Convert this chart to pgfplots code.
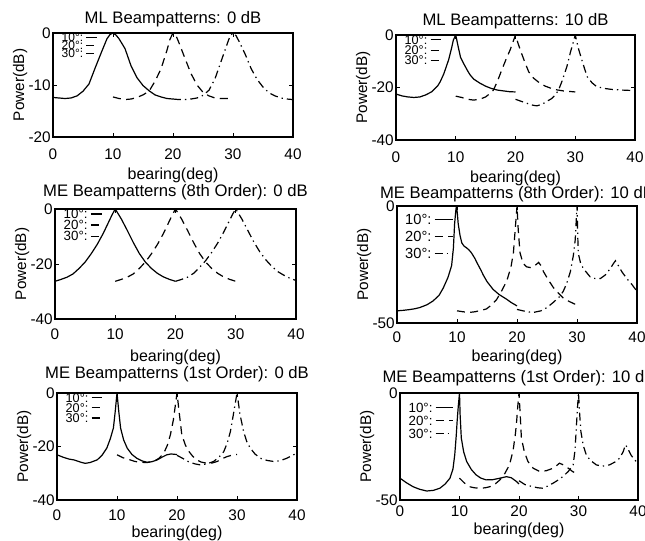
\documentclass[border=0pt]{standalone}
\usepackage{fontspec}
\setmainfont{Liberation Sans}
\usepackage{pgfplots}
\pgfplotsset{compat=1.18}

\pgfplotsset{
  bp/.style={
    scale only axis, anchor=south west,
    xmin=0, xmax=40, xtick={0,10,20,30,40},
    xticklabels={0,10,20,30,40},
    tick align=inside, major tick length=3pt,
    axis line style={line width=0.9pt},
    every tick/.style={black, line width=0.7pt},
    tick label style={font=\fontsize{11.5}{11.5}\selectfont},
    yticklabel style={inner xsep=1.5pt},
    xticklabel style={yshift=-4pt},
    xlabel style={font=\fontsize{12}{12}\selectfont, yshift=-1pt},
    ylabel style={font=\fontsize{11.5}{11.5}\selectfont, yshift=-4pt},
    title style={font=\fontsize{12.5}{12.5}\selectfont},
    xlabel={bearing(deg)}, ylabel={Power(dB)},
    legend plot pos=right, legend cell align=left,
    legend style={draw=none, fill=none, anchor=north west,
      inner sep=0pt, column sep=2pt,
      nodes={inner sep=0pt, text depth=0pt}},
  },
  leglen/.style={legend image code/.code={\draw[##1] (0pt,0pt) -- (#1,0pt);}},
  c10/.style={black, line width=0.9pt},
  c20/.style={black, line width=0.9pt, dash pattern=on 6pt off 4pt},
  c30/.style={black, line width=0.9pt, dash pattern=on 6pt off 3pt on 1pt off 3pt},
}

\begin{document}
\begin{tikzpicture}

% ---- ML, 0 dB
\begin{axis}[bp, at={(39.75pt,303pt)}, width=180pt, height=78pt,
  ymin=-20, ymax=0, ytick={-20,-10,0}, yticklabels={-20,-10,0},
  title={ML Beampatterns: 0 dB}, title style={yshift=-5pt},
  xticklabel style={yshift=-1pt}, xlabel style={yshift=1pt},
  leglen=8pt,
  legend style={at={(0.035,1)}, font=\fontsize{9}{9}\selectfont, row sep=-0.3pt}]
\addplot[c10] coordinates {(0,-12.4)(1,-12.5)(2,-12.6)(3,-12.5)(4,-12.1)(5,-11.2)(6,-9.8)(7,-6.8)(8,-3.9)(9,-1.1)(9.5,-0.3)(10,0)(10.5,-0.4)(11,-1.1)(12,-3.0)(13,-6.3)(14,-8.6)(15,-10.1)(16,-11.1)(17,-11.9)(18,-12.3)(19,-12.6)(20,-12.7)};
\addlegendentry{10°:}
\addplot[c20] coordinates {(10,-12.3)(11,-12.6)(12,-12.8)(13,-12.7)(14,-12.4)(15,-11.9)(16,-11.2)(17,-9.3)(18,-6.9)(19,-3.3)(19.5,-1.2)(20,0)(20.5,-0.5)(21,-1.9)(22,-4.9)(23,-7.8)(24,-10.0)(25,-11.4)(26,-12.1)(27,-12.5)(28,-12.6)(30,-12.6)};
\addlegendentry{20°:}
\addplot[c30] coordinates {(20,-12.7)(21,-12.8)(22,-12.8)(23,-12.7)(24,-12.5)(25,-12.0)(26,-11.0)(27,-8.8)(28,-5.5)(29,-2.2)(29.5,-0.6)(30,0)(30.5,-0.5)(31,-1.6)(32,-4.0)(33,-6.8)(34,-8.9)(35,-10.4)(36,-11.5)(37,-12.1)(38,-12.5)(39,-12.7)(40,-12.8)};
\addlegendentry{30°:}
\end{axis}

% ---- ML, 10 dB
\begin{axis}[bp, at={(297pt,300.75pt)}, width=179.25pt, height=78.75pt,
  ymin=-40, ymax=0, ytick={-40,-20,0}, yticklabels={-40,-20,0},
  title={ML Beampatterns: 10 dB}, title style={yshift=-5pt},
  xticklabel style={yshift=-1pt}, xlabel style={yshift=1.5pt},
  leglen=8pt,
  legend style={at={(0.035,1)}, font=\fontsize{9.5}{9.5}\selectfont, row sep=1.2pt}]
\addplot[c10] coordinates {(0,-22.5)(1,-23.2)(2,-23.6)(3,-23.8)(4,-23.6)(5,-22.8)(6,-21.6)(7,-19.3)(7.4,-17.8)(8,-14.8)(8.8,-9.5)(9.3,-5.0)(9.6,-1.9)(10,0)(10.4,-4.4)(10.8,-8.5)(11.3,-10.8)(12,-13.7)(12.4,-15.2)(13,-16.8)(14,-18.3)(15,-19.5)(16,-20.4)(17,-21.0)(18,-21.3)(19,-21.6)(20,-21.7)};
\addlegendentry{10°:}
\addplot[c20] coordinates {(10,-23.3)(11,-23.8)(12,-24.5)(13,-24.8)(14,-24.5)(15,-23.6)(16,-21.8)(16.3,-21.0)(17,-17.5)(17.7,-13.3)(18.5,-8.8)(19.1,-5.7)(19.6,-2.5)(20,0)(20.4,-3.0)(20.8,-5.7)(21.5,-10.0)(22.2,-14.0)(23,-16.4)(24.1,-18.4)(25,-19.5)(26.4,-20.7)(28,-21.3)(30,-21.7)};
\addlegendentry{20°:}
\addplot[c30] coordinates {(20,-24.5)(21,-25.3)(22,-26.1)(23,-26.8)(23.6,-27.0)(24.5,-26.3)(25.3,-25.2)(26,-24.3)(26.6,-23.0)(27.2,-21.0)(27.8,-17.5)(28.6,-12.0)(29.2,-6.5)(29.7,-2.5)(30,0)(30.3,-3.0)(30.6,-5.7)(31.3,-11.0)(32,-15.9)(32.8,-18.2)(33.6,-19.7)(35,-20.4)(36,-20.7)(38,-21.0)(40,-21.2)};
\addlegendentry{30°:}
\end{axis}

% ---- ME 8th order, 0 dB
\begin{axis}[bp, at={(41.25pt,166.5pt)}, width=180.75pt, height=82.5pt,
  ymin=-40, ymax=0, ytick={-40,-20,0}, yticklabels={-40,-20,0},
  title={ME Beampatterns (8th Order): 0 dB}, title style={yshift=-2.5pt},
  leglen=8pt,
  legend style={at={(0.035,1)}, font=\fontsize{10}{10}\selectfont, row sep=1.4pt}]
\addplot[c10] coordinates {(0,-26.3)(1,-25.6)(2,-24.8)(3,-23.6)(4,-21.6)(5,-19.3)(6,-16.3)(7,-12.9)(8,-8.9)(9,-4.3)(9.5,-2.0)(10,0)(10.5,-1.8)(11,-3.6)(12,-7.8)(13,-12.2)(14,-16.2)(15,-19.3)(16,-21.6)(17,-23.4)(18,-24.7)(19,-25.6)(20,-26.3)};
\addlegendentry{10°:}
\addplot[c20] coordinates {(10,-26.3)(11,-25.6)(12,-24.8)(13,-23.6)(14,-21.6)(15,-19.3)(16,-16.3)(17,-12.9)(18,-8.9)(19,-4.3)(19.5,-2.0)(20,0)(20.5,-1.8)(21,-3.6)(22,-7.8)(23,-12.2)(24,-16.2)(25,-19.3)(26,-21.6)(27,-23.4)(28,-24.7)(29,-25.6)(30,-26.3)};
\addlegendentry{20°:}
\addplot[c30] coordinates {(20,-26.3)(21,-25.6)(22,-24.8)(23,-23.4)(24,-21.2)(25,-18.8)(26,-15.8)(27,-12.4)(28,-8.4)(29,-4.0)(29.5,-1.8)(30,0)(30.5,-1.8)(31,-3.6)(32,-7.8)(33,-12.0)(34,-15.6)(35,-18.5)(36,-20.9)(37,-22.8)(38,-24.1)(39,-25.2)(40,-26.0)};
\addlegendentry{30°:}
\end{axis}

% ---- ME 8th order, 10 dB
\begin{axis}[bp, at={(297.75pt,163.5pt)}, width=180pt, height=87.75pt,
  ymin=-50, ymax=0, ytick={-50,0}, yticklabels={-50,0},
  title={ME Beampatterns (8th Order): 10 dB}, title style={yshift=-6.5pt},
  xticklabel style={yshift=1pt}, xlabel style={yshift=2.5pt},
  leglen=13.5pt,
  legend style={at={(0.033,0.93)}, font=\fontsize{11}{11}\selectfont, row sep=5pt}]
\addplot[c10] coordinates {(0,-44.8)(1,-44.6)(2,-44.3)(3,-43.9)(3.8,-43.4)(5,-42.2)(6,-40.6)(7,-38.2)(7.7,-35.1)(8.5,-30.5)(9.1,-25.5)(9.4,-18.0)(9.6,-7.6)(9.8,-2.0)(9.9,0)(10.05,-3.0)(10.2,-7.6)(10.5,-12.5)(10.8,-15.8)(11.2,-17.2)(11.6,-17.9)(12,-18.8)(12.4,-20.0)(13,-22.5)(13.3,-24.1)(14,-27.5)(14.4,-29.6)(15,-32.3)(16,-35.6)(17,-37.8)(18.3,-39.9)(19,-41.2)(20,-42.7)};
\addlegendentry{10°:}
\addplot[c20] coordinates {(10,-44.8)(11,-45.2)(12,-45.5)(13,-45.2)(14,-44.6)(14.9,-44.0)(15.5,-42.8)(16.6,-40.0)(17.5,-36.0)(18.3,-32.0)(19,-26.0)(19.4,-20.0)(19.7,-10.0)(20,0)(20.2,-10.0)(20.5,-20.0)(21,-24.5)(21.6,-26.0)(22.2,-26.3)(22.7,-26.0)(23.3,-24.8)(23.6,-24.1)(24,-25.5)(24.4,-28.0)(25.2,-31.5)(26.1,-35.0)(27,-37.5)(27.7,-39.3)(28.7,-40.8)(29.7,-42.0)};
\addlegendentry{20°:}
\addplot[c30] coordinates {(20,-44.2)(21,-44.8)(22,-45.3)(22.7,-45.5)(24,-44.8)(25,-43.4)(26,-41.3)(27,-39.0)(27.7,-36.5)(28.3,-33.0)(28.9,-28.0)(29.4,-21.0)(29.7,-14.5)(30,0)(30.2,-20.0)(30.6,-24.5)(31.1,-26.9)(32.2,-30.3)(33,-31.0)(33.9,-31.0)(34.7,-29.5)(35.5,-26.9)(36.1,-24.5)(36.4,-23.4)(36.9,-25.5)(37.5,-28.2)(38.3,-31.0)(39.2,-33.7)(40,-36.5)};
\addlegendentry{30°:}
\end{axis}

% ---- ME 1st order, 0 dB
\begin{axis}[bp, at={(42.75pt,30.75pt)}, width=180pt, height=80.25pt,
  ymin=-40, ymax=0, ytick={-40,-20,0}, yticklabels={-40,-20,0},
  title={ME Beampatterns (1st Order): 0 dB}, title style={yshift=-1.5pt},
  xlabel style={yshift=4pt},
  leglen=8pt,
  legend style={at={(0.035,1)}, font=\fontsize{9.5}{9.5}\selectfont, row sep=1pt}]
\addplot[c10] coordinates {(0,-23.1)(1,-24.0)(2,-24.7)(2.8,-25.0)(4,-25.9)(4.7,-26.3)(5.5,-26.0)(6.7,-25.0)(7.5,-23.3)(8.3,-20.6)(8.9,-17.0)(9.4,-13.1)(9.7,-7.0)(10,0)(10.3,-7.0)(10.6,-13.1)(11.1,-17.5)(11.7,-20.6)(12.5,-23.0)(13.3,-24.4)(14.2,-25.4)(15,-25.9)(15.8,-25.7)(16.7,-25.0)(17.5,-24.0)(18.3,-23.1)(19,-22.8)(20,-23.0)};
\addlegendentry{10°:}
\addplot[c20] coordinates {(10,-23.1)(11,-24.2)(12.2,-25.0)(13,-25.6)(13.9,-25.9)(15,-26.0)(16.1,-25.6)(17,-24.4)(17.8,-22.5)(18.4,-19.5)(18.9,-15.6)(19.4,-10.0)(19.7,-5.0)(20,0)(20.3,-6.0)(20.8,-15.6)(21.4,-19.5)(22,-21.9)(22.6,-23.6)(23.3,-25.0)(24,-25.8)(25,-26.3)(25.8,-26.2)(26.7,-25.6)(27.5,-24.6)(28.3,-23.8)(29.4,-23.1)(30,-23.0)};
\addlegendentry{20°:}
\addplot[c30] coordinates {(20,-23.3)(21,-24.5)(22,-25.8)(23,-26.5)(23.9,-26.9)(25,-26.5)(26.1,-25.6)(27,-24.0)(27.8,-21.9)(28.4,-18.5)(28.9,-14.4)(29.4,-8.0)(30,0)(30.5,-8.0)(31.1,-14.4)(31.6,-18.0)(32.2,-20.6)(33,-22.8)(33.9,-24.4)(35,-25.2)(36.1,-25.6)(37.2,-25.3)(38.3,-24.4)(39.4,-23.1)(40,-22.6)};
\addlegendentry{30°:}
\end{axis}

% ---- ME 1st order, 10 dB
\begin{axis}[bp, at={(300pt,30.75pt)}, width=178.5pt, height=80.25pt,
  ymin=-50, ymax=0, ytick={-50,0}, yticklabels={-50,0},
  title={ME Beampatterns (1st Order): 10 dB}, title style={yshift=-4pt},
  xticklabel style={yshift=3pt}, xlabel style={yshift=3.5pt},
  leglen=13pt,
  legend style={at={(0.035,0.91)}, font=\fontsize{10}{10}\selectfont, row sep=2.8pt}]
\addplot[c10] coordinates {(0,-39.8)(1,-41.8)(2.2,-43.8)(3.3,-45.0)(4.5,-45.8)(5.6,-45.5)(6.7,-44.5)(7.6,-42.5)(8.4,-39.8)(8.9,-35.5)(9.2,-28.9)(9.45,-20.0)(9.6,-13.3)(9.8,-6.0)(10,0)(10.1,-10.0)(10.3,-21.0)(10.7,-27.5)(11.2,-32.0)(12,-35.8)(12.8,-38.3)(13.6,-39.8)(14.5,-40.6)(15.6,-40.5)(16.8,-39.8)(17.9,-39.1)(18.7,-39.6)(19.6,-41.4)(20,-42.5)};
\addlegendentry{10°:}
\addplot[c20] coordinates {(10,-39.8)(10.8,-42.0)(11.7,-43.8)(12.5,-44.3)(13.4,-44.5)(14.3,-44.3)(15.1,-43.8)(16,-42.5)(16.8,-40.6)(17.6,-37.7)(18.4,-33.6)(19,-27.0)(19.4,-19.0)(19.6,-13.3)(19.8,-6.0)(20,0)(20.2,-10.0)(20.4,-21.0)(20.9,-27.5)(21.5,-32.0)(22.4,-35.2)(23.5,-36.7)(24.6,-36.3)(25.7,-35.2)(26.3,-34.0)(26.8,-32.8)(27.3,-33.4)(27.9,-34.4)(28.5,-35.6)(29,-36.7)(30,-38.0)};
\addlegendentry{20°:}
\addplot[c30] coordinates {(20,-41.0)(21,-42.8)(22.3,-43.8)(23.2,-44.3)(24,-44.5)(24.8,-43.5)(25.7,-42.2)(26.5,-40.8)(27.4,-39.0)(28.3,-36.6)(29.1,-33.6)(29.4,-27.0)(29.6,-18.0)(29.8,-8.0)(30,0)(30.2,-10.0)(30.4,-18.0)(30.8,-24.5)(31.3,-28.9)(32,-31.5)(33,-33.6)(34,-34.2)(35.2,-33.6)(36.1,-32.3)(36.9,-30.5)(37.5,-27.5)(37.9,-24.2)(38.3,-26.0)(38.8,-28.9)(39.3,-30.8)(39.7,-32.0)(40,-32.8)};
\addlegendentry{30°:}
\end{axis}

\pgfresetboundingbox
\path[use as bounding box] (0pt,0pt) rectangle (483.75pt,405.75pt);
\end{tikzpicture}
\end{document}
